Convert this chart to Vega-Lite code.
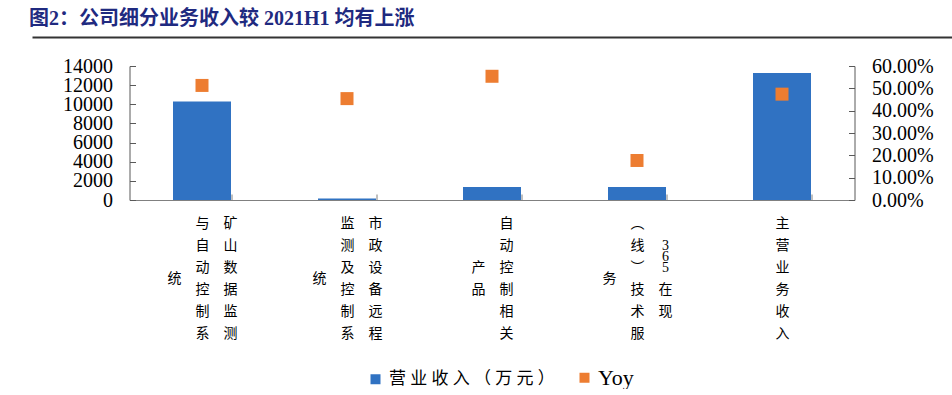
{
  "$schema": "https://vega.github.io/schema/vega-lite/v6.json",
  "padding": {"left": 29, "top": 8, "right": 0, "bottom": 0},
  "bounds": "flush",
  "center": true,
  "spacing": 29,
  "title": {
    "text": "图2：公司细分业务收入较 2021H1 均有上涨",
    "anchor": "start",
    "frame": "group",
    "font": "Liberation Serif, Noto Sans CJK SC",
    "fontSize": 20,
    "fontWeight": "bold",
    "color": "#1F2A80",
    "offset": 5,
    "dx": -3
  },
  "config": {"view": {"stroke": null}},
  "vconcat": [
    {
      "width": 920,
      "height": 1,
      "data": {"values": [{"v": 0}]},
      "mark": {"type": "point", "opacity": 0},
      "encoding": {
        "x": {
          "field": "v",
          "type": "quantitative",
          "scale": {"domain": [0, 1]},
          "axis": {"title": null, "labels": false, "ticks": false, "grid": false, "domainColor": "#333333", "domainWidth": 2}
        }
      }
    },
    {
      "width": 725,
      "height": 134,
      "data": {
        "values": [
          {"category": "矿山数据监测与自动控制系统", "revenue": 10300, "yoy": 0.513},
          {"category": "市政设备远程监测及控制系统", "revenue": 160, "yoy": 0.454},
          {"category": "自动控制相关产品", "revenue": 1360, "yoy": 0.554},
          {"category": "365在现（线）技术服务", "revenue": 1360, "yoy": 0.177},
          {"category": "主营业务收入", "revenue": 13270, "yoy": 0.474}
        ]
      },
      "encoding": {
        "x": {
          "field": "category",
          "type": "nominal",
          "sort": null,
          "scale": {"paddingInner": 0.6, "paddingOuter": 0.3},
          "axis": {
            "title": null,
            "domainColor": "#808080",
            "tickColor": "#808080",
            "tickSize": -6,
            "tickBand": "extent",
            "labelAngle": 0,
            "labelFont": "Liberation Serif, Noto Sans CJK SC",
            "labelFontSize": 14,
            "labelColor": "#000000",
            "labelLineHeight": 11,
            "labelPadding": 22,
            "labelBaseline": "top",
            "labelAlign": "center",
            "labelOverlap": false,
            "labelBound": false,
            "labelLimit": 300,
            "labelExpr": "datum.value == '矿山数据监测与自动控制系统' ? ['\u200b　　与　矿\u200b','\u200b','\u200b　　自　山\u200b','\u200b','\u200b　　动　数\u200b','\u200b统　　　　\u200b','\u200b　　控　据\u200b','\u200b','\u200b　　制　监\u200b','\u200b','\u200b　　系　测\u200b'] : datum.value == '市政设备远程监测及控制系统' ? ['\u200b　　监　市\u200b','\u200b','\u200b　　测　政\u200b','\u200b','\u200b　　及　设\u200b','\u200b统　　　　\u200b','\u200b　　控　备\u200b','\u200b','\u200b　　制　远\u200b','\u200b','\u200b　　系　程\u200b'] : datum.value == '自动控制相关产品' ? ['\u200b　　自\u200b','\u200b','\u200b　　动\u200b','\u200b','\u200b产　控\u200b','\u200b','\u200b品　制\u200b','\u200b','\u200b　　相\u200b','\u200b','\u200b　　关\u200b'] : datum.value == '365在现（线）技术服务' ? ['\u200b　　︵　　\u200b','\u200b','\u200b　　线　\u00a03\u00a0\u200b','\u200b　　　　\u00a06\u00a0\u200b','\u200b　　︶　\u00a05\u00a0\u200b','\u200b务　　　　\u200b','\u200b　　技　在\u200b','\u200b','\u200b　　术　现\u200b','\u200b','\u200b　　服　　\u200b'] : datum.value == '主营业务收入' ? ['主','\u200b','营','\u200b','业','\u200b','务','\u200b','收','\u200b','入'] : ''"
          }
        }
      },
      "layer": [
        {
          "mark": {"type": "bar"},
          "encoding": {
            "y": {
              "field": "revenue",
              "type": "quantitative",
              "scale": {"domain": [0, 14000]},
              "axis": {
                "orient": "left",
                "title": null,
                "values": [0, 2000, 4000, 6000, 8000, 10000, 12000, 14000],
                "format": "d",
                "grid": false,
                "domainColor": "#595959",
                "tickColor": "#595959",
                "tickSize": -6,
                "labelOverlap": false,
                "labelFont": "Liberation Serif",
                "labelFontSize": 20,
                "labelColor": "#000000",
                "labelPadding": 23
              }
            },
            "color": {
              "datum": "营业收入（万元）",
              "type": "nominal",
              "scale": {"domain": ["营业收入（万元）", "Yoy"], "range": ["#3072C2", "#ED7D31"]},
              "legend": {
                "orient": "none",
                "legendX": 335,
                "legendY": 333,
                "direction": "horizontal",
                "title": null,
                "symbolType": "square",
                "symbolSize": 100,
                "symbolStrokeWidth": 0,
                "labelFont": "Liberation Serif, Noto Sans CJK SC",
                "labelFontSize": 17,
                "labelColor": "#000000",
                "labelOffset": 5,
                "labelLimit": 400,
                "columnPadding": 21,
                "labelExpr": "datum.label == 'Yoy' ? datum.label : join(split(datum.label, ''), ' ')",
                "encode": {"labels": {"update": {"fontSize": {"signal": "datum.label == 'Yoy' ? 22 : 17"}}}}
              }
            }
          }
        },
        {
          "mark": {"type": "point", "shape": "square", "filled": true, "size": 169, "opacity": 1},
          "encoding": {
            "y": {
              "field": "yoy",
              "type": "quantitative",
              "scale": {"domain": [0, 0.6]},
              "axis": {
                "orient": "right",
                "title": null,
                "values": [0, 0.1, 0.2, 0.3, 0.4, 0.5, 0.6],
                "format": ".2%",
                "grid": false,
                "domainColor": "#595959",
                "tickColor": "#595959",
                "tickSize": -6,
                "labelOverlap": false,
                "labelFont": "Liberation Serif",
                "labelFontSize": 20,
                "labelColor": "#000000",
                "labelPadding": 23
              }
            },
            "color": {"datum": "Yoy", "type": "nominal"}
          }
        }
      ],
      "resolve": {"scale": {"y": "independent"}}
    }
  ]
}
